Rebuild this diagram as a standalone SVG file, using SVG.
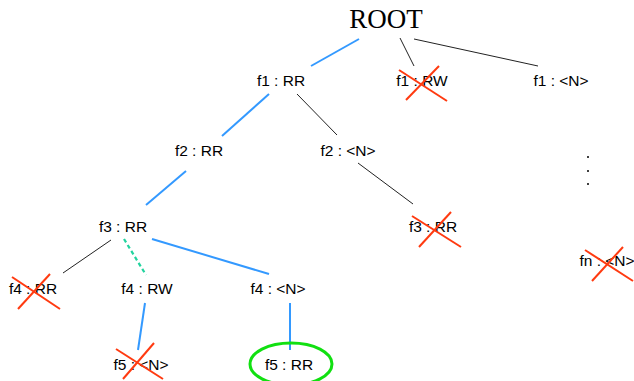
<svg xmlns="http://www.w3.org/2000/svg" width="634" height="381" viewBox="0 0 634 381">
<style>
text{font-family:"Liberation Sans",Arial,sans-serif;font-size:15.5px;fill:#000;text-anchor:middle}
.root{font-family:"Liberation Serif","Times New Roman",serif;font-size:27px}
.b{stroke:#3399ff;stroke-width:2;fill:none}
.k{stroke:#222;stroke-width:1;fill:none}
.g{stroke:#22d39e;stroke-width:2.2;stroke-dasharray:4 3;fill:none}
.x{stroke:#ff3a10;stroke-width:2;fill:none}
</style>
<rect width="634" height="381" fill="#fff"/>
<g id="connectors">
<line class="b" x1="359" y1="39" x2="311" y2="66"/>
<line class="k" x1="400" y1="38" x2="414" y2="66"/>
<line class="k" x1="414" y1="39" x2="538" y2="66"/>
<line class="b" x1="269" y1="94" x2="222" y2="136"/>
<line class="k" x1="297" y1="94" x2="337" y2="135"/>
<line class="b" x1="186" y1="171" x2="146" y2="205"/>
<line class="k" x1="358" y1="163" x2="413" y2="204"/>
<line class="k" x1="111" y1="240" x2="63" y2="273"/>
<line class="g" x1="124" y1="239" x2="146" y2="275"/>
<line class="b" x1="152" y1="239" x2="269" y2="274"/>
<line class="b" x1="145" y1="303" x2="138" y2="350"/>
<line class="b" x1="290" y1="303" x2="290" y2="350"/>
</g>
<g id="root"><text class="root" x="386" y="28">ROOT</text></g>
<g id="f1-RR"><text x="281" y="86">f1 : RR</text></g>
<g id="f1-RW"><text x="422" y="86">f1 : RW</text>
<line class="x" x1="399" y1="70" x2="447" y2="101"/><line class="x" x1="406" y1="100" x2="439" y2="66"/></g>
<g id="f1-N"><text x="561" y="86">f1 : &lt;N&gt;</text></g>
<g id="f2-RR"><text x="199" y="156">f2 : RR</text></g>
<g id="f2-N"><text x="348" y="156">f2 : &lt;N&gt;</text></g>
<g id="f3-RR"><text x="123" y="232">f3 : RR</text></g>
<g id="f3-RR-2"><text x="433" y="232">f3 : RR</text>
<line class="x" x1="412" y1="216" x2="461" y2="247"/><line class="x" x1="419" y1="247" x2="451" y2="212"/></g>
<g id="dots"><circle cx="588" cy="157" r="1" fill="#000"/><circle cx="588" cy="171" r="1" fill="#000"/><circle cx="588" cy="184" r="1" fill="#000"/></g>
<g id="fn-N"><text x="607" y="266">fn : &lt;N&gt;</text>
<line class="x" x1="585" y1="250" x2="633" y2="281"/><line class="x" x1="592" y1="281" x2="623" y2="247"/></g>
<g id="f4-RR"><text x="33" y="294">f4 : RR</text>
<line class="x" x1="12" y1="277" x2="60" y2="309"/><line class="x" x1="18" y1="309" x2="50" y2="274"/></g>
<g id="f4-RW"><text x="147" y="294">f4 : RW</text></g>
<g id="f4-N"><text x="278" y="294">f4 : &lt;N&gt;</text></g>
<g id="f5-N"><text x="141" y="370">f5 : &lt;N&gt;</text>
<line class="x" x1="116" y1="349" x2="163" y2="379"/><line class="x" x1="123" y1="379" x2="154" y2="343"/></g>
<g id="f5-RR"><ellipse cx="291" cy="364" rx="41" ry="21" fill="none" stroke="#11e011" stroke-width="3"/>
<text x="289" y="370">f5 : RR</text></g>
</svg>
